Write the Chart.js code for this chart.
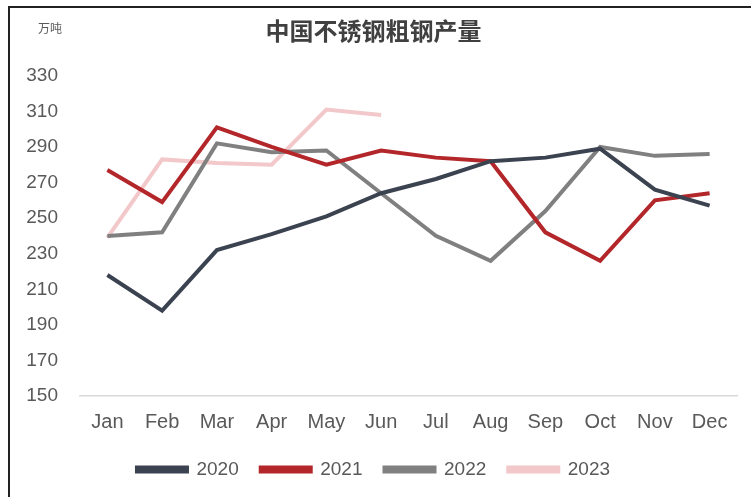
<!DOCTYPE html>
<html>
<head>
<meta charset="utf-8">
<script src="https://cdn.jsdelivr.net/npm/chart.js@4.4.1/dist/chart.umd.min.js"></script>
<style>
  html, body { margin: 0; padding: 0; background: #fff; }
  body { width: 751px; height: 497px; position: relative; overflow: hidden; }
  .frame { position: absolute; left: 8px; top: 6px; right: -5px; bottom: -5px;
           border-left: 2px solid #222; border-top: 2px solid #222; background: #fff; }
  .wrap { position: absolute; left: 10px; top: 8px; width: 741px; height: 489px; }
</style>
</head>
<body>
<div class="frame"></div>
<div class="wrap"><canvas id="eChart1" width="741" height="489"></canvas></div>
<script>
// data (万吨)
var months = ['Jan', 'Feb', 'Mar', 'Apr', 'May', 'Jun', 'Jul', 'Aug', 'Sep', 'Oct', 'Nov', 'Dec'];
var y2020 = [218, 198, 232, 241, 251, 264, 272, 282, 284, 289, 266, 257];
var y2021 = [277, 259, 301, 290, 280, 288, 284, 282, 242, 226, 260, 264];
var y2022 = [240, 242, 292, 287, 288, 264, 240, 226, 254, 290, 285, 286];
var y2023 = [239, 283, 281, 280, 311, 308];
var yTicks = [150, 170, 190, 210, 230, 250, 270, 290, 310, 330];

var unitLabel = {
  id: 'unitLabel',
  afterDraw: function(chart) {
    var c = chart.ctx;
    c.save();
    c.font = '12px "Noto Sans CJK SC", sans-serif';
    c.fillStyle = '#595959';
    c.textBaseline = 'middle';
    c.fillText('万吨', 28, 20);
    c.restore();
  }
};

function line(label, data, color) {
  return {
    label: label,
    data: data,
    borderColor: color,
    backgroundColor: color,
    borderWidth: 4,
    pointRadius: 0,
    tension: 0,
    fill: false
  };
}

var ctx1 = document.getElementById('eChart1').getContext('2d');
var myChart1 = new Chart(ctx1, {
  type: 'line',
  data: {
    labels: months,
    datasets: [
      line('2020', y2020, '#3c4350'),
      line('2021', y2021, '#b3262a'),
      line('2022', y2022, '#808080'),
      line('2023', y2023, '#f2c8ca')
    ]
  },
  options: {
    responsive: false,
    animation: false,
    layout: {
      padding: { left: 0, right: 14, top: 0, bottom: 8 }
    },
    plugins: {
      title: {
        display: true,
        text: '中国不锈钢粗钢产量',
        color: '#404040',
        font: { family: '"Noto Sans CJK SC", sans-serif', size: 24, weight: 'bold' },
        padding: { top: 8, bottom: 31 }
      },
      legend: {
        position: 'bottom',
        labels: {
          boxWidth: 50,
          boxHeight: 4,
          padding: 22,
          color: '#595959',
          font: { family: '"Liberation Sans", Arial, sans-serif', size: 19 }
        }
      },
      tooltip: { enabled: false }
    },
    scales: {
      x: {
        offset: true,
        afterFit: function(scale) { scale.height -= 10; },
        grid: { display: false, drawTicks: false, offset: true },
        border: { display: true, color: '#d9d9d9', width: 1.5 },
        ticks: {
          padding: 14,
          maxRotation: 0,
          autoSkip: false,
          color: '#595959',
          font: { family: '"Liberation Sans", Arial, sans-serif', size: 20 }
        }
      },
      y: {
        min: 150,
        max: 330,
        afterFit: function(scale) { scale.width = 70; },
        afterBuildTicks: function(scale) {
          scale.ticks = yTicks.map(function(v) { return { value: v }; });
        },
        grid: { display: false, drawTicks: false },
        border: { display: false },
        ticks: {
          padding: 22,
          color: '#595959',
          font: { family: '"Liberation Sans", Arial, sans-serif', size: 19 }
        }
      }
    }
  },
  plugins: [unitLabel]
});
</script>
</body>
</html>
